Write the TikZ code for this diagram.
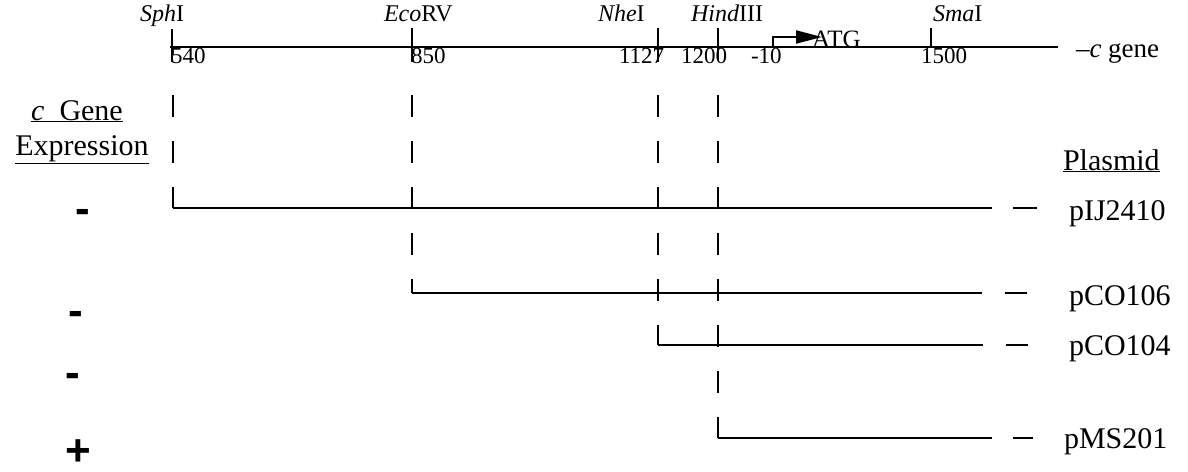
\documentclass[tikz,border=0pt]{standalone}
\usepackage{fontspec}
\setmainfont{Liberation Serif}
\newfontfamily\signfont{Liberation Sans}
\usetikzlibrary{arrows.meta}
\begin{document}
\begin{tikzpicture}[x=1pt,y=-1pt,line width=2pt,
  site/.style={font=\fontsize{24}{24}\selectfont,anchor=base west,inner sep=0pt},
  num/.style={font=\fontsize{23}{23}\selectfont,anchor=base west,inner sep=0pt},
  lab/.style={font=\fontsize{30}{30}\selectfont,anchor=base west,inner sep=0pt},
  sign/.style={font=\signfont\bfseries\fontsize{44}{44}\selectfont,anchor=base,inner sep=0pt},
  vdash/.style={line width=2.5pt,dash pattern=on 22pt off 24pt},
  tick/.style={line width=2pt}]
\useasboundingbox (0,0) rectangle (1188,471);
% main line
\coordinate (L) at (170,47);
\coordinate (R) at (1058,47);
\draw (L) -- (R);
\node[site,font=\fontsize{27}{27}\selectfont] (cgene) at (1075,57) {--\textit{c} gene};
% sites
\coordinate (sph) at (172,47);
\coordinate (eco) at (412,47);
\coordinate (nhe) at (658,47);
\coordinate (hind) at (718,47);
\coordinate (prom) at (773,47);
\coordinate (sma) at (931,47);
\draw[tick] (172,29) -- (172,62);
\draw[tick] (412,28) -- (412,62);
\draw[tick] (658,28) -- (658,62);
\draw[tick] (718,28) -- (718,60);
\draw[tick] (931,28) -- (sma);
\node[site] (lsph) at (139,21) {\textit{Sph}I};
\node[site] (leco) at (383,21) {\textit{Eco}RV};
\node[site] (lnhe) at (597,21) {\textit{Nhe}I};
\node[site] (lhind) at (690,21) {\textit{Hind}III};
\node[site] (lsma) at (932,21) {\textit{Sma}I};
\node[num] (n540) at (170,63) {540};
\node[num] (n850) at (410,63) {850};
\node[num] (n1127) at (618,63) {1127};
\node[num] (n1200) at (680,63) {1200};
\node[num] (n10) at (750,63) {-10};
\node[num] (n1500) at (920,63) {1500};
% promoter
\coordinate (pa) at (773,37);
\coordinate (pb) at (822,37);
\draw[-{Triangle[length=26pt,width=13pt]}] (prom) -- (pa) -- (pb);
\node[site,font=\fontsize{25}{25}\selectfont] (atg) at (811,47) {ATG};
% left headings
\node[lab,anchor=base] (hg) at (77,120) {\underline{\textit{c}\ \ Gene}};
\node[lab,anchor=base] (hx) at (82,155) {\underline{Expression}};
\node[lab] (hp) at (1062,170) {\underline{Plasmid}};
% plasmid starts
\coordinate (s1) at (173,208);
\coordinate (s2) at (412,293);
\coordinate (s3) at (658,345);
\coordinate (s4) at (718,438);
\coordinate (t1) at (173,95);
\coordinate (t2) at (412,95);
\coordinate (t3) at (658,95);
\coordinate (t4) at (718,95);
\draw[vdash] (t1) -- (s1);
\draw[vdash] (t2) -- (s2);
\draw[vdash] (t3) -- (s3);
\draw[vdash] (t4) -- (s4);
% plasmid lines
\coordinate (e1) at (992,208);
\coordinate (e2) at (982,293);
\coordinate (e3) at (983,345);
\coordinate (e4) at (992,438);
\draw (s1) -- (e1);
\draw (s2) -- (e2);
\draw (s3) -- (e3);
\draw (s4) -- (e4);
\draw (1013,208) -- (1037,208);
\draw (1005,293) -- (1027,293);
\draw (1006,345) -- (1028,345);
\draw (1013,438) -- (1033,438);
\node[lab] (p1) at (1068,220) {pIJ2410};
\node[lab] (p2) at (1068,305) {pCO106};
\node[lab] (p3) at (1068,355) {pCO104};
\node[lab] (p4) at (1063,448) {pMS201};
% expression signs
\node[sign] (x1) at (83,223) {-};
\node[sign] (x2) at (76,325) {-};
\node[sign] (x3) at (73,387) {-};
\node[sign] (x4) at (78,465) {+};
\end{tikzpicture}
\end{document}
